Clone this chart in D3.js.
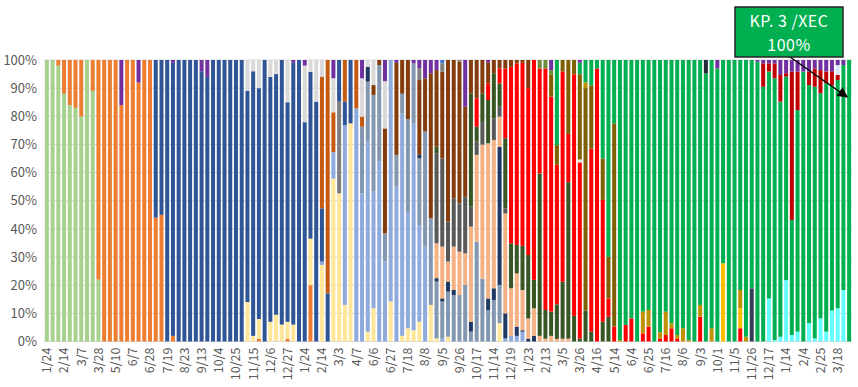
<!DOCTYPE html>
<html><head><meta charset="utf-8">
<script src="https://cdn.jsdelivr.net/npm/d3@7"></script>
<style>body{margin:0;background:#fff}svg{display:block}</style>
</head><body>
<svg id="c" width="858" height="387"></svg>
<script>
// ---- DATA ----
const barCount = 141;
const tickLabels = ["1/24","2/14","3/7","3/28","5/10","6/7","6/28","7/19","8/23","9/13","10/4","10/25","11/15","12/6","12/27","1/24","2/14","3/3","4/7","6/6","6/27","7/18","8/8","9/5","9/26","10/17","11/14","12/19","1/23","2/13","3/5","3/26","4/16","5/14","6/4","6/25","7/16","8/6","9/3","10/1","11/5","11/26","12/17","1/14","2/4","2/25","3/18"];
const yTicks = [0,10,20,30,40,50,60,70,80,90,100];

// each series: [barIndex, percent] pairs (bars not listed = 0)
const lgreen = [[0,100],[1,100],[2,98],[3,88],[4,84],[5,83],[6,80],[7,100],[8,89],[9,22]];
const orange = [[2,2],[3,12],[4,16],[5,17],[6,20],[8,11],[9,78],[10,100],[11,100],[12,100],[13,84],[14,100],[15,100],[16,92],[17,100],[18,100],[19,44],[20,45],[22,2],[37,1],[42,1],[46,20]];
const yellow = [[35,14],[36,2],[37,7],[39,7],[40,9.5],[41,6],[42,6],[43,6],[46,16.5],[48,27.2],[50,58],[51,52.6],[52,13],[53,77.5],[56,3.5],[57,11.8],[60,14.2],[62,2],[63,4.7],[64,4],[65,7],[67,13],[68,1.1],[70,1.7],[79,6.5]];
const lblue = [[48,1.2],[50,9.4],[52,63.9],[54,82.8],[55,52.6],[56,67.5],[57,41.4],[58,63.9],[59,28.4],[60,85.8],[61,55],[62,79],[63,41.3],[64,73.5],[65,34.4],[66,33.7],[69,1],[80,1.1],[81,2],[82,2],[83,3.5]];
const grayA = [[51,32.6]];
const bgray = [[55,23.7],[56,21.3],[57,34.4],[58,34.3],[59,10],[61,11.3],[62,7],[63,33],[64,21.3],[65,23.7],[66,40.9],[67,30.8],[68,20.2],[69,13.2],[70,16],[71,16.5],[72,16.5],[73,20.1],[74,3.5],[75,35.5],[76,22.4],[77,11.2],[78,14.7],[79,13.6]];
const navy = [[56,5.3],[65,1.2],[68,1.2],[69,1.1],[70,3.6],[71,1.8],[74,3.5],[77,4.1],[78,4.2],[79,49.1],[80,8.9],[82,3.3],[83,0.5],[84,1],[85,2]];
const dblue = [[19,56],[20,55],[21,100],[22,97],[23,100],[24,100],[25,100],[26,100],[27,96],[28,94],[29,100],[30,100],[31,100],[32,100],[33,100],[34,100],[35,75],[36,94],[37,82],[38,100],[39,87],[40,85.5],[41,94],[42,78],[43,93],[44,100],[45,78],[46,59.2],[47,85.2],[48,18.9],[49,17.1],[51,14.8],[52,8.3],[53,22.5]];
const peach = [[68,12.4],[69,18.4],[70,7.1],[71,15.4],[72,15.4],[73,11.2],[74,33.8],[75,30.8],[76,47.6],[77,55.1],[78,52.7],[79,10.7],[80,35.5],[81,16.9],[82,18.9],[83,14.3],[84,7.2],[85,9.8],[86,2],[87,1],[88,2],[89,1],[90,1],[91,1]];
const dgray = [[68,32],[69,31.3],[70,14.2],[71,17.2],[72,17.2],[73,20.1],[74,7.1],[75,4.7],[76,8.1],[78,7.7],[79,3.5],[80,1.8]];
const dgreen = [[68,2.3],[74,40.3],[75,5.3],[76,10],[77,15.4],[78,16],[79,8.3],[80,24.9],[81,16],[82,10.1],[83,15.7],[84,22.5],[85,10.1],[86,57.7],[87,10.2],[88,8.6],[89,13.2],[90,20],[91,55],[92,9],[93,1],[94,11],[95,3.5],[97,7],[98,8.8]];
const red = [[75,10.1],[77,5.9],[79,5.3],[80,24.8],[81,62.7],[82,64.5],[83,65],[84,59.3],[85,78.1],[86,37.3],[87,85.8],[88,76.4],[89,53.3],[90,74],[91,17],[92,85],[93,62],[95,65],[96,97],[97,43.3],[98,6.5],[99,5.3],[101,5.9],[102,8.2],[104,2.9],[105,5.3],[107,1.1],[108,2.3],[109,4.7],[110,1.1],[114,8.8],[121,4.7]];
const cream = [[93,1]];
const dorange = [[48,46.8],[49,82.9],[50,14.2],[52,14.8],[54,17.2],[55,3.6]];
const brown = [[57,3.5],[58,1.8],[59,37.3],[61,32.7],[62,12],[63,21],[65,26.6],[66,18.9],[67,51.5],[68,27.2],[69,30.9],[70,57.4],[71,49.1],[72,50.3],[73,32],[74,11.8],[75,13.6],[76,12],[77,7.5],[78,4.7],[79,3],[80,3],[81,2.4],[82,1.2],[83,1],[84,10]];
const yellowGold = [[118,27.8],[121,7.1]];
const olive = [[88,7.7],[89,7.5],[90,4],[91,26],[92,5],[93,30],[94,79],[95,22.5],[97,14.7],[98,14.8],[99,72.2]];
const gold = [[94,2],[100,0.5],[104,7.7],[105,5.9],[107,2.2],[108,8.3],[109,1.8],[110,1.2],[111,4.7],[112,0.5],[114,4.2],[116,4.7],[121,6.5],[122,1.7]];
const moss = [[86,3],[87,3],[88,1.7]];
const slateLow = [[123,18.9]];
const cyan = [[126,15.3],[127,0.5],[128,1.7],[129,21.8],[130,2.3],[131,3.5],[133,6.5],[134,1.1],[135,8.2],[136,3.5],[137,11],[138,11.8],[139,18.3]];
const green = [[89,32.5],[93,4],[94,8],[95,9],[96,3],[97,35],[98,70],[99,22.5],[100,99.5],[101,94.1],[102,91.8],[103,100],[104,89.4],[105,88.8],[106,100],[107,96.7],[108,89.4],[109,93.5],[110,97.7],[111,95.3],[112,99.5],[113,100],[114,87],[115,95.2],[116,95.3],[117,97],[118,72.2],[119,100],[120,100],[121,81.7],[122,98.3],[123,81.1],[124,99.4],[125,90.5],[126,80.6],[127,93],[128,83.5],[129,72.3],[130,40.9],[131,78.7],[132,95.9],[133,84.6],[134,89.4],[135,80],[136,88.2],[137,80],[138,81.1],[139,79.9],[140,100]];
const slateTop = [[115,4.8]];
const dred = [[125,8.3],[126,2.9],[127,5.3],[128,9.5],[129,1.2],[130,52.7],[131,13.7],[133,4.8],[134,6.5],[135,8.2],[136,4.2],[137,5],[138,1.8]];
const grayB = [[65,4.2],[69,2.9],[72,0.6]];
const blueTop = [[69,1.2]];
const lgray = [[35,11],[36,4],[37,10],[39,6],[40,5],[42,15],[45,20.1],[46,4.2],[47,14.8],[48,5.9],[50,12.1],[55,13.6],[56,2.4],[57,8.9],[59,16.8]];
const lavender = [[138,3.5]];
const purple = [[13,16],[16,8],[22,1],[27,4],[28,6],[43,1],[45,2],[50,6.5],[55,6.5],[59,7.5],[61,1],[64,1.2],[65,2.9],[66,6.5],[67,4.7],[68,3.6],[73,16.6],[77,0.8],[88,3.6],[93,1],[117,3],[124,0.6],[125,1.2],[126,1.2],[127,1.2],[128,5.3],[129,4.7],[130,4.1],[131,4.1],[132,4.1],[133,4.1],[134,3],[135,3.6],[136,4.1],[137,4],[138,1.8],[139,1.8]];

// stacking order (bottom -> top) with colours
const seriesList = [
  ["lgreen", lgreen, "#a9d18e"], ["orange", orange, "#ed7d31"], ["yellow", yellow, "#ffe699"],
  ["lblue", lblue, "#8faadc"], ["grayA", grayA, "#7f7f7f"], ["bgray", bgray, "#8497b0"],
  ["navy", navy, "#203864"], ["dblue", dblue, "#2f5597"], ["peach", peach, "#f4b183"],
  ["dgray", dgray, "#595959"], ["dgreen", dgreen, "#375623"], ["red", red, "#ff0000"],
  ["cream", cream, "#e2f0d9"], ["dorange", dorange, "#c55a11"], ["brown", brown, "#843c0c"],
  ["yellowGold", yellowGold, "#ffc000"], ["olive", olive, "#7f6000"], ["gold", gold, "#bf9000"],
  ["moss", moss, "#6e8b3d"], ["slateLow", slateLow, "#333f50"], ["cyan", cyan, "#66ffff"],
  ["green", green, "#00b050"], ["slateTop", slateTop, "#222a35"], ["dred", dred, "#c00000"],
  ["grayB", grayB, "#7f7f7f"], ["blueTop", blueTop, "#4472c4"], ["lgray", lgray, "#d9d9d9"],
  ["lavender", lavender, "#dae3f3"], ["purple", purple, "#7030a0"]
];

(function draw() {
  const keys = seriesList.map(s => s[0]);
  const colorOf = Object.fromEntries(seriesList.map(s => [s[0], s[2]]));
  const rows = d3.range(barCount).map(i => {
    const r = {i};
    keys.forEach(k => r[k] = 0);
    return r;
  });
  seriesList.forEach(([k, arr]) => arr.forEach(([i, v]) => { rows[i][k] = v; }));
  const stacked = d3.stack().keys(keys).offset(d3.stackOffsetExpand)(rows);

  const svg = d3.select("#c");
  const pl = 44, pr = 852, pt = 60, pb = 341.5;
  const x = d3.scaleBand().domain(d3.range(barCount)).range([pl, pr]).paddingInner(0.3).paddingOuter(0.15);
  const y = d3.scaleLinear().domain([0, 1]).range([pb, pt]);

  svg.append("g").selectAll("line").data(yTicks).join("line")
    .attr("x1", pl).attr("x2", pr)
    .attr("y1", d => y(d/100)).attr("y2", d => y(d/100))
    .attr("stroke", "#d9d9d9").attr("stroke-width", 1);

  svg.append("g").selectAll("g").data(stacked).join("g")
    .attr("fill", d => colorOf[d.key])
    .selectAll("rect").data(d => d.filter(p => p[1] - p[0] > 0)).join("rect")
    .attr("x", p => x(p.data.i))
    .attr("width", x.bandwidth())
    .attr("y", p => y(p[1]))
    .attr("height", p => y(p[0]) - y(p[1]));

  const font = "'Noto Sans CJK JP','Noto Sans',sans-serif";
  const yAxis = d3.axisLeft(y).tickValues(yTicks.map(v => v/100)).tickFormat(d => Math.round(d*100) + "%").tickSize(0).tickPadding(6);
  const ga = svg.append("g").attr("transform", `translate(${pl-1},0)`).call(yAxis);
  ga.select(".domain").remove();
  ga.selectAll("text").attr("fill", "#595959").style("font-family", font).style("font-size", "13px");

  const xAxis = d3.axisBottom(x).tickValues(d3.range(0, barCount, 3)).tickFormat(i => tickLabels[i/3] || "").tickSize(0);
  const gx = svg.append("g").attr("transform", `translate(0,${pb})`).call(xAxis);
  gx.select(".domain").remove();
  gx.selectAll("text")
    .attr("transform", "rotate(-90)")
    .attr("text-anchor", "end")
    .attr("x", -6).attr("y", 0).attr("dy", "0.35em")
    .attr("fill", "#595959")
    .style("font-family", font).style("font-size", "12.5px");

  const defs = svg.append("defs");
  defs.append("marker").attr("id", "ah").attr("viewBox", "0 0 10 10").attr("refX", 9).attr("refY", 5)
    .attr("markerWidth", 7).attr("markerHeight", 7).attr("orient", "auto")
    .append("path").attr("d", "M0,0 L10,5 L0,10 z").attr("fill", "#000");
  svg.append("line").attr("x1", 790).attr("y1", 57).attr("x2", x(140) + x.bandwidth()/2 - 2).attr("y2", 97)
    .attr("stroke", "#000").attr("stroke-width", 1.5).attr("marker-end", "url(#ah)");
  svg.append("rect").attr("x", 735).attr("y", 7).attr("width", 108).attr("height", 50)
    .attr("fill", "#00b050").attr("stroke", "#262626").attr("stroke-width", 1.5);
  svg.append("text").attr("fill", "#fff").attr("text-anchor", "middle")
    .attr("x", 789).attr("y", 27).attr("letter-spacing", "0.5px")
    .style("font-family", font).style("font-size", "16px").text("KP. 3 /XEC");
  svg.append("text").attr("fill", "#fff").attr("text-anchor", "middle")
    .attr("x", 789).attr("y", 51).attr("letter-spacing", "0.5px")
    .style("font-family", font).style("font-size", "16px").text("100%");
})();
</script>
</body></html>
